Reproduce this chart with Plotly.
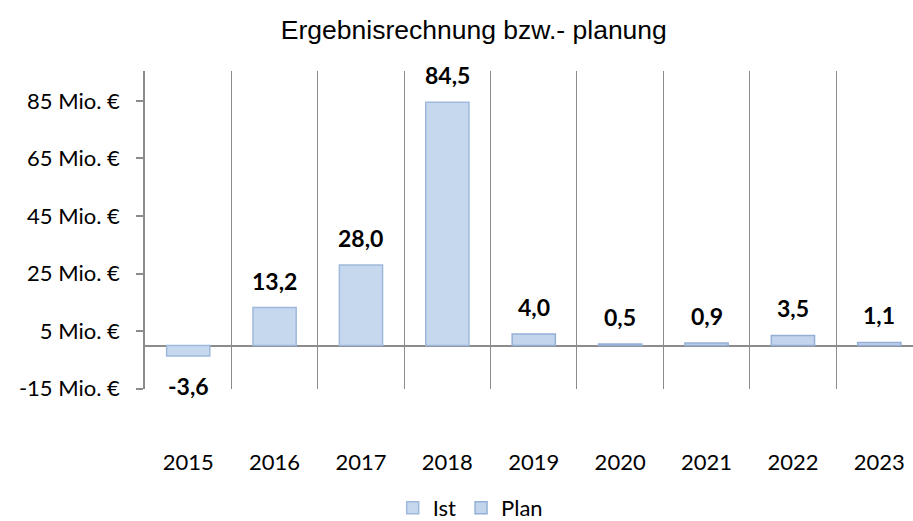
import plotly.graph_objects as go

# Werte in Mio. €
years_ist = ["2015", "2016", "2017", "2018"]
values_ist = [-3.6, 13.2, 28.0, 84.5]
years_plan = ["2019", "2020", "2021", "2022", "2023"]
values_plan = [4.0, 0.5, 0.9, 3.5, 1.1]
all_years = years_ist + years_plan
all_values = values_ist + values_plan

y_ticks = [-15, 5, 25, 45, 65, 85]
y_tick_labels = [f"{t} Mio. €" for t in y_ticks]

grid_col = "#8c8c8c"

fig = go.Figure()
fig.add_trace(go.Bar(x=years_ist, y=values_ist, name="Ist", width=0.5,
                     marker=dict(color="#c6d8ee", line=dict(color="#9fb9dc", width=1.5))))
fig.add_trace(go.Bar(x=years_plan, y=values_plan, name="Plan", width=0.5,
                     marker=dict(color="#c3d5ed", line=dict(color="#94b0d6", width=1.5))))

# Datenbeschriftungen (deutsches Dezimalkomma); x als Kategorie-Index
for i, v in enumerate(all_values):
    fig.add_annotation(x=i, y=v, xref="x", yref="y",
                       text="<b>" + f"{v:.1f}".replace(".", ",") + "</b>",
                       showarrow=False, yanchor="bottom" if v >= 0 else "top",
                       yshift=11 if v >= 0 else -14,
                       font=dict(family="Lato", size=23, color="black"))

fig.update_layout(
    width=913, height=521,
    margin=dict(l=145, r=0, t=71, b=132),
    paper_bgcolor="white", plot_bgcolor="white",
    barmode="overlay",
    title=dict(text="Ergebnisrechnung bzw.- planung", x=0.519, xanchor="center",
               y=0.943, yanchor="middle",
               font=dict(family="Liberation Sans", size=26.5, color="black")),
    font=dict(family="Lato", size=22, color="black"),
    showlegend=True,
    legend=dict(orientation="h", xref="container", x=0.515, xanchor="center",
                yref="container", y=0.025, yanchor="middle",
                font=dict(family="Lato", size=22), itemwidth=30),
)
fig.update_xaxes(type="category", categoryorder="array", categoryarray=all_years,
                 range=[-0.5, 8.39], tickson="boundaries", showgrid=True,
                 gridcolor=grid_col, gridwidth=1.3, showline=False, ticks="",
                 ticklabelstandoff=58, tickangle=0, tickfont=dict(family="Lato", size=22))
fig.update_yaxes(range=[-15.1, 95.4], tickvals=y_ticks, ticktext=y_tick_labels,
                 showgrid=False, zeroline=True, zerolinecolor=grid_col, zerolinewidth=1.5,
                 showline=True, linecolor=grid_col, linewidth=1.5,
                 ticks="outside", ticklen=7, tickcolor=grid_col, tickwidth=1.5,
                 ticklabelstandoff=12, tickfont=dict(family="Lato", size=22))

fig.write_html("out.html", config={"displayModeBar": False},
               post_script="document.body.style.margin='0';")
